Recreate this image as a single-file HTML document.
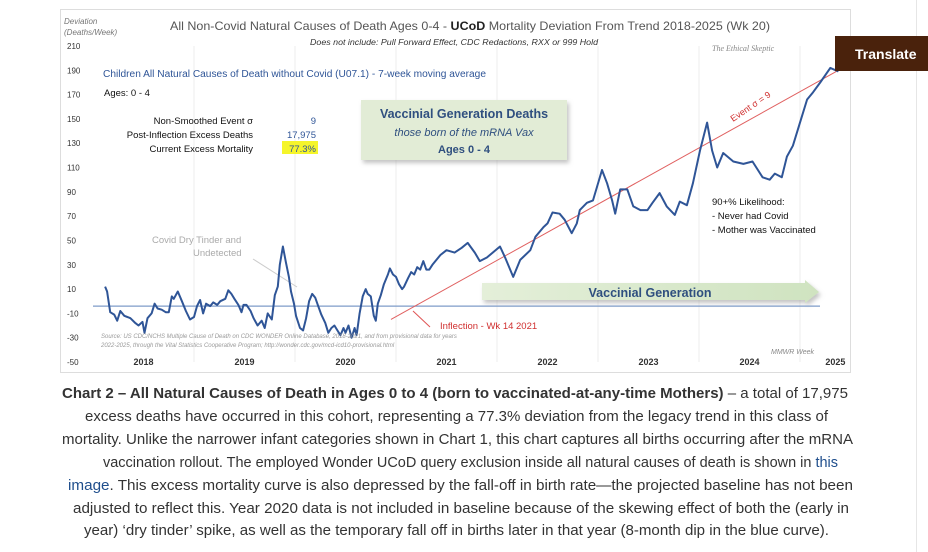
<!DOCTYPE html>
<html><head><meta charset="utf-8"><style>
body{margin:0;width:928px;height:552px;background:#fff;overflow:hidden;font-family:"Liberation Sans",sans-serif}
svg{display:block}
</style></head><body>
<svg id="root" width="928" height="552" viewBox="0 0 928 552">
<defs>
<linearGradient id="arrowG" x1="0" x2="1"><stop offset="0" stop-color="#e4efd9"/><stop offset="1" stop-color="#cfe3c0"/></linearGradient>
<filter id="sh" x="-10%" y="-10%" width="130%" height="140%"><feDropShadow dx="2" dy="3" stdDeviation="2" flood-color="#888" flood-opacity="0.5"/></filter>
</defs>
<rect x="60.5" y="9.5" width="790" height="363" fill="#fff" stroke="#ddd"/>
<line x1="916.5" y1="0" x2="916.5" y2="552" stroke="#e6e6e6"/>
<g id="grid"></g>
<g id="yticks" font-size="8" fill="#333"></g>
<g id="xticks" font-size="9" font-weight="bold" fill="#333"></g>
<text x="64" y="24" font-size="8" font-style="italic" fill="#777">Deviation</text>
<text x="64" y="35" font-size="8" font-style="italic" fill="#777">(Deaths/Week)</text>
<text x="170" y="30" font-size="12" fill="#555" textLength="600" lengthAdjust="spacingAndGlyphs">All Non-Covid Natural Causes of Death Ages 0-4 - <tspan font-weight="bold" fill="#222">UCoD</tspan> Mortality Deviation From Trend  2018-2025 (Wk 20)</text>
<text x="310" y="45" font-size="8" font-style="italic" fill="#333" textLength="288" lengthAdjust="spacingAndGlyphs">Does not include: Pull Forward Effect, CDC Redactions, RXX or 999 Hold</text>
<text x="712" y="51" font-size="8" font-style="italic" fill="#888" font-family="Liberation Serif,serif">The Ethical Skeptic</text>
<text x="103" y="77" font-size="10" fill="#2f5597" textLength="383" lengthAdjust="spacingAndGlyphs">Children All Natural Causes of Death without Covid (U07.1) - 7-week moving average</text>
<text x="104" y="96" font-size="9.5" fill="#111">Ages: 0 - 4</text>
<g font-size="9.5" fill="#111" text-anchor="end">
<text x="253" y="124">Non-Smoothed Event σ</text>
<text x="253" y="138">Post-Inflection Excess Deaths</text>
<text x="253" y="152">Current Excess Mortality</text>
</g>
<rect x="282" y="141" width="36" height="13" fill="#f5f52a"/>
<g font-size="9.5" fill="#2f5597" text-anchor="end">
<text x="316" y="124">9</text><text x="316" y="138">17,975</text><text x="316" y="152">77.3%</text>
</g>
<g filter="url(#sh)">
<rect x="361" y="100" width="206" height="60" fill="#e2ecd6"/>
</g>
<text x="464" y="118" font-size="12.5" font-weight="bold" fill="#2f4f7f" text-anchor="middle">Vaccinial Generation Deaths</text>
<text x="464" y="136" font-size="11" font-style="italic" fill="#2f4f7f" text-anchor="middle">those born of the mRNA Vax</text>
<text x="464" y="153" font-size="11" font-weight="bold" fill="#2f4f7f" text-anchor="middle">Ages 0 - 4</text>
<text x="152" y="243" font-size="9.5" fill="#aaa">Covid Dry Tinder and</text>
<text x="193" y="256" font-size="9.5" fill="#aaa">Undetected</text>
<line x1="253" y1="259" x2="297" y2="287" stroke="#ccc"/>
<g filter="url(#sh)">
<polygon points="482,283 805,283 805,280 819,292 805,303 805,300 482,300" fill="url(#arrowG)"/>
</g>
<text x="650" y="297" font-size="12.5" font-weight="bold" fill="#2f4f7f" text-anchor="middle">Vaccinial Generation</text>
<text x="712" y="205" font-size="9.5" fill="#111">90+% Likelihood:</text>
<text x="712" y="219" font-size="9.5" fill="#111">- Never had Covid</text>
<text x="712" y="233" font-size="9.5" fill="#111">- Mother was Vaccinated</text>
<g id="plot"></g>
<line x1="413" y1="311" x2="430" y2="327" stroke="#e05555"/>
<text x="440" y="329" font-size="9.5" fill="#d03030">Inflection - Wk 14 2021</text>
<text x="733" y="122" font-size="9" fill="#d03030" transform="rotate(-34 733 122)">Event σ =  9</text>
<text x="101" y="338" font-size="6" font-style="italic" fill="#999">Source: US CDC/NCHS Multiple Cause of Death on CDC WONDER Online Database, 2018-2021, and from provisional data for years</text>
<text x="101" y="347" font-size="6" font-style="italic" fill="#999">2022-2025, through the Vital Statistics Cooperative Program; http://wonder.cdc.gov/mcd-icd10-provisional.html</text>
<text x="771" y="354" font-size="7" font-style="italic" fill="#888">MMWR Week</text>
<rect x="835" y="36" width="93" height="35" fill="#4a220c"/>
<text x="855" y="59" font-size="14" font-weight="bold" fill="#fff">Translate</text>
<g font-size="15" fill="#333" font-family="'Liberation Sans Narrow','Liberation Sans',sans-serif">
<text x="62" y="398" textLength="786" lengthAdjust="spacingAndGlyphs"><tspan font-weight="bold">Chart 2 – All Natural Causes of Death in Ages 0 to 4 (born to vaccinated-at-any-time Mothers)</tspan> – a total of 17,975</text>
<text x="85" y="421" textLength="743" lengthAdjust="spacingAndGlyphs">excess deaths have occurred in this cohort, representing a 77.3% deviation from the legacy trend in this class of</text>
<text x="62" y="444" textLength="791" lengthAdjust="spacingAndGlyphs">mortality. Unlike the narrower infant categories shown in Chart 1, this chart captures all births occurring after the mRNA</text>
<text x="103" y="467" textLength="735" lengthAdjust="spacingAndGlyphs">vaccination rollout. The employed Wonder UCoD query exclusion inside all natural causes of death is shown in <tspan fill="#1f4e8c">this</tspan></text>
<text x="68" y="490" textLength="785" lengthAdjust="spacingAndGlyphs"><tspan fill="#1f4e8c">image</tspan>. This excess mortality curve is also depressed by the fall-off in birth rate—the projected baseline has not been</text>
<text x="73" y="513" textLength="776" lengthAdjust="spacingAndGlyphs">adjusted to reflect this. Year 2020 data is not included in baseline because of the skewing effect of both the (early in</text>
<text x="84" y="535" textLength="745" lengthAdjust="spacingAndGlyphs">year) ‘dry tinder’ spike, as well as the temporary fall off in births later in that year (8-month dip in the blue curve).</text>
</g>
</svg>
<script>
const yTicks=[210,190,170,150,130,110,90,70,50,30,10,-10,-30,-50];
const years=[2018,2019,2020,2021,2022,2023,2024,2025];
const weekTimes=[2018.12,2018.14,2018.17,2018.21,2018.24,2018.27,2018.31,2018.37,2018.42,2018.45,2018.49,2018.51,2018.54,2018.58,2018.61,2018.64,2018.68,2018.72,2018.75,2018.78,2018.80,2018.84,2018.88,2018.92,2018.96,2019.00,2019.03,2019.06,2019.09,2019.12,2019.16,2019.19,2019.23,2019.26,2019.31,2019.34,2019.37,2019.40,2019.44,2019.47,2019.49,2019.52,2019.56,2019.59,2019.63,2019.67,2019.70,2019.73,2019.77,2019.80,2019.83,2019.85,2019.88,2019.91,2019.94,2019.96,2019.99,2020.01,2020.05,2020.08,2020.11,2020.14,2020.17,2020.20,2020.23,2020.26,2020.30,2020.33,2020.36,2020.39,2020.42,2020.45,2020.48,2020.50,2020.53,2020.56,2020.59,2020.61,2020.64,2020.67,2020.70,2020.72,2020.75,2020.78,2020.80,2020.82,2020.85,2020.88,2020.92,2020.94,2020.97,2021.00,2021.03,2021.06,2021.08,2021.12,2021.15,2021.18,2021.21,2021.24,2021.27,2021.30,2021.33,2021.36,2021.44,2021.50,2021.58,2021.65,2021.71,2021.78,2021.83,2021.90,2022.03,2022.08,2022.16,2022.23,2022.33,2022.38,2022.46,2022.50,2022.55,2022.62,2022.67,2022.74,2022.79,2022.82,2022.89,2022.95,2023.04,2023.09,2023.14,2023.17,2023.22,2023.29,2023.35,2023.42,2023.49,2023.54,2023.61,2023.68,2023.76,2023.81,2023.88,2023.94,2024.01,2024.08,2024.13,2024.18,2024.24,2024.34,2024.44,2024.53,2024.63,2024.70,2024.75,2024.82,2024.87,2024.93,2025.00,2025.07,2025.13,2025.20,2025.30,2025.38];
const deviationValues=[12,8,-9,-11,-16,-8,-12,-14,-18,-20,-17,-26,-14,-10,-2,-6,-7,-9,-9,4,2,8,0,-8,-15,-13,-4,1,-10,-2,-4,-1,-3,0,2,9,6,2,-3,-9,-3,-3,-8,-14,-20,-16,-22,-10,-15,5,12,30,45,32,20,8,-2,-12,-22,-24,-14,0,6,3,-4,-11,-18,-26,-22,-20,-24,-28,-22,-26,-20,-30,-22,-28,-10,4,10,6,4,-12,-16,-2,5,14,22,27,22,20,14,10,12,19,24,22,28,26,33,26,26,30,38,42,40,44,48,40,33,36,45,36,20,34,42,53,61,64,73,72,67,56,64,75,81,83,108,97,83,72,92,92,78,75,75,81,89,78,71,82,79,97,124,147,124,110,122,115,113,115,102,100,105,102,119,128,147,166,172,180,192,189];
const baselineValue=[-4];
const trendStart=[2020.95,-15];
const trendEnd=[2025.38,190];
const X=t=>93+(t-2018)*101;
const Y=v=>46+(210-v)*1.2154;
const NS='http://www.w3.org/2000/svg';
function mk(tag,parent,attrs){const e=document.createElementNS(NS,tag);for(const k in attrs)e.setAttribute(k,attrs[k]);parent.appendChild(e);return e;}
const grid=document.getElementById('grid'),yt=document.getElementById('yticks'),xt=document.getElementById('xticks'),plot=document.getElementById('plot');
years.forEach(yr=>{if(yr>2018){const l=mk('line',grid,{x1:X(yr),x2:X(yr),y1:46,y2:362,stroke:'#eeeeee'});

}
const t=mk('text',xt,{x:X(yr+(yr===2025?0.35:0.5)),y:365,'text-anchor':'middle'});t.textContent=yr;

});
yTicks.forEach(v=>{const t=mk('text',yt,{x:67,y:Y(v)+3});t.textContent=v;

});
const bl=mk('line',plot,{x1:93,x2:820,y1:Y(baselineValue[0]),y2:Y(baselineValue[0]),stroke:'#7f9cc8','stroke-width':1.3});


const tr=mk('line',plot,{x1:X(trendStart[0]),y1:Y(trendStart[1]),x2:X(trendEnd[0]),y2:Y(trendEnd[1]),stroke:'#e06060','stroke-width':1});


const pts=weekTimes.map((t,i)=>X(t).toFixed(1)+','+Y(deviationValues[i]).toFixed(1)).join(' ');
const ln=mk('polyline',plot,{points:pts,fill:'none',stroke:'#2f5597','stroke-width':2,'stroke-linejoin':'round'});


</script>
</body></html>
